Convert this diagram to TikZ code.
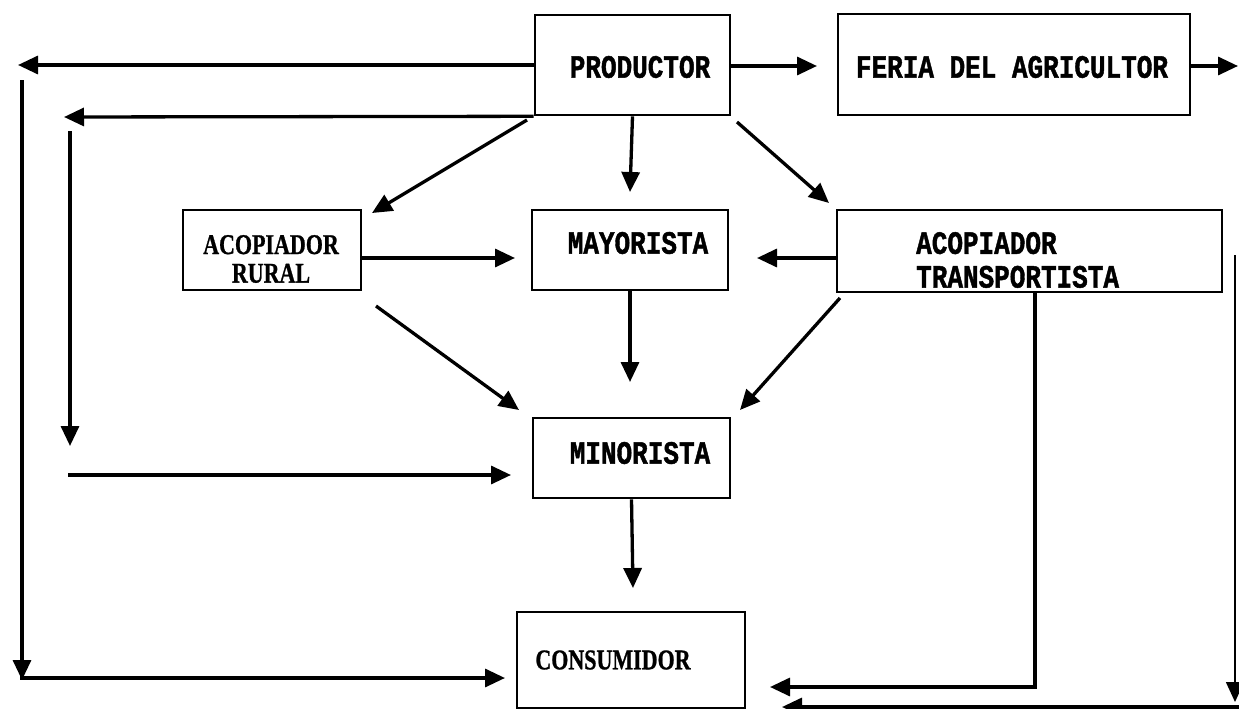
\documentclass[tikz,border=0pt]{standalone}
\usepackage{fontspec}
\setmainfont{Liberation Serif}
\newfontfamily\twfont{Liberation Mono}[BoldFeatures={FakeBold=1.5}]
\newfontfamily\sffont{Liberation Serif}[BoldFeatures={FakeBold=1}]
\usetikzlibrary{arrows.meta}
\begin{document}
\begin{tikzpicture}[x=1pt,y=-1pt,
 box/.style={draw, line width=2.6pt, inner sep=0pt},
 tw/.style={font=\twfont\bfseries\fontsize{26}{27}\selectfont, inner sep=0pt, yscale=1.25, transform shape},
 sf/.style={font=\sffont\bfseries\fontsize{22}{22}\selectfont, inner sep=0pt, align=center, yscale=1.3, transform shape},
 arr/.style={line width=3.3pt, -{Triangle[length=20pt,width=18pt]}},
 ln/.style={line width=3.3pt}]
\useasboundingbox (0,0) rectangle (1239,709);

% boxes
\node[box, minimum width=195pt, minimum height=100pt] (prod) at (632.5,65) {};
\node[box, minimum width=352pt, minimum height=101pt] (feria) at (1014,64.5) {};
\node[box, minimum width=178pt, minimum height=80pt] (rural) at (272,250) {};
\node[box, minimum width=196pt, minimum height=80pt] (may) at (630,250) {};
\node[box, minimum width=385pt, minimum height=82pt] (trans) at (1029.5,251) {};
\node[box, minimum width=197pt, minimum height=80pt] (min) at (631.5,458) {};
\node[box, minimum width=228pt, minimum height=96pt] (cons) at (631,660) {};

% texts
\node[tw] (prodT) at (640,67) {PRODUCTOR};
\node[tw] (feriaT) at (1012,67) {FERIA DEL AGRICULTOR};
\node[sf] (ruralT) at (271,259) {ACOPIADOR\\RURAL};
\node[tw] (mayT) at (638,243) {MAYORISTA};
\node[tw, anchor=west, align=left] (transT) at (916,260) {ACOPIADOR\\TRANSPORTISTA};
\node[tw] (minT) at (640,453) {MINORISTA};
\node[sf] (consT) at (613,660) {CONSUMIDOR};

% free ends
\coordinate (a1) at (18,65);
\coordinate (v1s) at (22,80);
\coordinate (v1e) at (22,680);
\coordinate (a2) at (64,117);
\coordinate (v2s) at (70,131);
\coordinate (v2e) at (70,446);
\coordinate (h3s) at (68,475);
\coordinate (h3e) at (511,475);
\coordinate (h4s) at (20,678);
\coordinate (h4e) at (505,678);
\coordinate (pf) at (817,66);
\coordinate (fe) at (1238,66);
\coordinate (rvs) at (1235,255);
\coordinate (rve) at (1235,702);
\coordinate (bs) at (1239,707);
\coordinate (be) at (782,707);
\coordinate (pr1) at (527,120);
\coordinate (pr2) at (372,213);
\coordinate (pt1) at (737,122);
\coordinate (pt2) at (829,203);
\coordinate (rm1) at (376,306);
\coordinate (rm2) at (519,410);
\coordinate (tm1) at (840,298);
\coordinate (tm2) at (740,410);
\coordinate (tc1) at (1035,292);
\coordinate (tc2) at (1035,687);
\coordinate (tc3) at (770,687);
\coordinate (rmy) at (515,258);
\coordinate (tmy) at (757,258);
\coordinate (pm) at (630,192);
\coordinate (mm) at (630,382);
\coordinate (mc) at (633,588);

% connectors
\draw[arr] (prod.west) -- (a1);
\draw[arr] (v1s) -- (v1e);
\draw[arr] (prod.south west) -- (a2);
\draw[arr] (v2s) -- (v2e);
\draw[arr] (h3s) -- (h3e);
\draw[arr] (h4s) -- (h4e);
\draw[arr] (prod.east |- pf) -- (pf);
\draw[arr] (feria.east |- fe) -- (fe);
\draw[arr, line width=1.6pt] (rvs) -- (rve);
\draw[arr] (bs) -- (be);
\draw[arr] (prod.south) -- (pm);
\draw[arr] (may.south) -- (mm);
\draw[arr] (min.south) -- (mc);
\draw[arr] (pr1) -- (pr2);
\draw[arr] (pt1) -- (pt2);
\draw[arr] (rm1) -- (rm2);
\draw[arr] (tm1) -- (tm2);
\draw[arr] (rural.east |- rmy) -- (rmy);
\draw[arr] (trans.west |- tmy) -- (tmy);
\draw[arr] (tc1) -- (tc2) -- (tc3);
\end{tikzpicture}
\end{document}
